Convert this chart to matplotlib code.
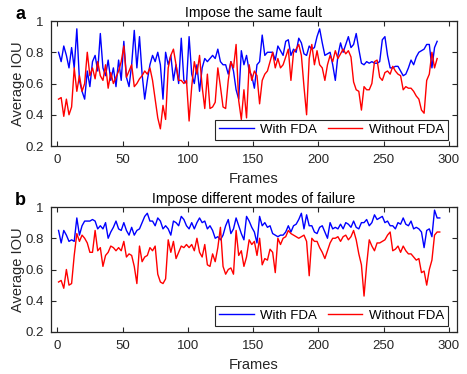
import numpy as np
import matplotlib
matplotlib.use("Agg")
import matplotlib.pyplot as plt

plt.rcParams['font.family'] = ['Liberation Sans', 'DejaVu Sans']

# IOU per frame, every 2nd frame (1, 3, 5, ...)
same_fault_fda = [
    0.80, 0.74, 0.84, 0.78, 0.70, 0.83, 0.70, 0.95, 0.62, 0.55,
    0.50, 0.68, 0.58, 0.74, 0.78, 0.68, 0.92, 0.70, 0.65, 0.75,
    0.62, 0.70, 0.58, 0.75, 0.62, 0.87, 0.64, 0.58, 0.72, 0.94,
    0.70, 0.90, 0.66, 0.50, 0.62, 0.72, 0.78, 0.74, 0.80, 0.72,
    0.50, 0.80, 0.72, 0.78, 0.62, 0.72, 0.60, 0.89, 0.62, 0.60,
    0.90, 0.66, 0.60, 0.72, 0.55, 0.70, 0.76, 0.74, 0.76, 0.78,
    0.76, 0.82, 0.74, 0.72, 0.72, 0.66, 0.74, 0.68, 0.56, 0.50,
    0.81, 0.72, 0.78, 0.68, 0.65, 0.57, 0.72, 0.74, 0.91, 0.78,
    0.80, 0.80, 0.80, 0.75, 0.84, 0.81, 0.78, 0.87, 0.88, 0.78,
    0.82, 0.80, 0.89, 0.86, 0.79, 0.78, 0.84, 0.82, 0.83, 0.90,
    0.95, 0.86, 0.78, 0.79, 0.80, 0.72, 0.62, 0.78, 0.86, 0.80,
    0.85, 0.90, 0.83, 0.85, 0.92, 0.82, 0.73, 0.72, 0.74, 0.73,
    0.74, 0.73, 0.73, 0.74, 0.88, 0.90, 0.78, 0.70, 0.70, 0.71,
    0.71, 0.68, 0.65, 0.66, 0.70, 0.75, 0.72, 0.77, 0.80, 0.81,
    0.82, 0.85, 0.85, 0.70, 0.83, 0.87,
]
same_fault_nofda = [
    0.50, 0.51, 0.39, 0.50, 0.40, 0.45, 0.70, 0.55, 0.65, 0.55,
    0.60, 0.80, 0.65, 0.70, 0.63, 0.74, 0.65, 0.62, 0.72, 0.57,
    0.67, 0.60, 0.64, 0.68, 0.74, 0.84, 0.64, 0.68, 0.72, 0.58,
    0.60, 0.63, 0.65, 0.68, 0.66, 0.70, 0.62, 0.50, 0.38, 0.31,
    0.46, 0.37, 0.70, 0.78, 0.82, 0.72, 0.62, 0.62, 0.60, 0.62,
    0.36, 0.58, 0.74, 0.66, 0.78, 0.58, 0.44, 0.66, 0.44, 0.45,
    0.48, 0.70, 0.58, 0.45, 0.44, 0.62, 0.74, 0.70, 0.85, 0.49,
    0.37, 0.56, 0.38, 0.72, 0.62, 0.68, 0.65, 0.47, 0.62, 0.66,
    0.68, 0.74, 0.80, 0.70, 0.76, 0.70, 0.72, 0.77, 0.82, 0.62,
    0.80, 0.82, 0.85, 0.78, 0.58, 0.40, 0.76, 0.85, 0.72, 0.81,
    0.72, 0.70, 0.62, 0.72, 0.78, 0.74, 0.81, 0.76, 0.79, 0.82,
    0.79, 0.81, 0.77, 0.61, 0.56, 0.55, 0.43, 0.58, 0.56, 0.56,
    0.60, 0.74, 0.75, 0.64, 0.62, 0.67, 0.68, 0.66, 0.71, 0.68,
    0.66, 0.65, 0.56, 0.58, 0.57, 0.57, 0.55, 0.52, 0.50, 0.43,
    0.41, 0.62, 0.66, 0.80, 0.70, 0.76,
]
diff_modes_fda = [
    0.85, 0.77, 0.85, 0.82, 0.78, 0.79, 0.78, 0.93, 0.82, 0.88,
    0.91, 0.91, 0.91, 0.92, 0.91, 0.86, 0.88, 0.86, 0.90, 0.80,
    0.84, 0.87, 0.91, 0.86, 0.85, 0.90, 0.85, 0.82, 0.87, 0.82,
    0.85, 0.86, 0.90, 0.94, 0.96, 0.91, 0.91, 0.88, 0.93, 0.91,
    0.86, 0.88, 0.86, 0.82, 0.91, 0.90, 0.88, 0.94, 0.92, 0.88,
    0.86, 0.90, 0.86, 0.90, 0.93, 0.90, 0.91, 0.86, 0.88, 0.85,
    0.80, 0.81, 0.79, 0.82, 0.88, 0.92, 0.83, 0.86, 0.93, 0.88,
    0.83, 0.79, 0.94, 0.91, 0.87, 0.84, 0.77, 0.94, 0.88, 0.90,
    0.87, 0.88, 0.83, 0.82, 0.81, 0.82, 0.82, 0.84, 0.88, 0.84,
    0.88, 0.89, 0.92, 0.96, 0.86, 0.95, 0.88, 0.88, 0.84, 0.83,
    0.87, 0.88, 0.84, 0.80, 0.90, 0.86, 0.87, 0.86, 0.89, 0.86,
    0.90, 0.89, 0.87, 0.91, 0.87, 0.86, 0.90, 0.90, 0.92, 0.88,
    0.90, 0.95, 0.92, 0.93, 0.94, 0.90, 0.91, 0.88, 0.88, 0.86,
    0.90, 0.89, 0.93, 0.89, 0.88, 0.91, 0.86, 0.87, 0.86, 0.84,
    0.74, 0.85, 0.86, 0.81, 0.98, 0.93, 0.93,
]
diff_modes_nofda = [
    0.52, 0.53, 0.48, 0.60, 0.50, 0.51, 0.69, 0.83, 0.78, 0.82,
    0.80, 0.77, 0.71, 0.71, 0.85, 0.72, 0.74, 0.62, 0.69, 0.71,
    0.75, 0.74, 0.72, 0.74, 0.72, 0.78, 0.68, 0.70, 0.69, 0.62,
    0.51, 0.75, 0.65, 0.68, 0.69, 0.74, 0.72, 0.75, 0.57, 0.52,
    0.51, 0.54, 0.79, 0.71, 0.78, 0.67, 0.71, 0.75, 0.74, 0.76,
    0.74, 0.76, 0.72, 0.80, 0.71, 0.68, 0.76, 0.63, 0.62, 0.70,
    0.65, 0.74, 0.87, 0.62, 0.57, 0.60, 0.61, 0.57, 0.85, 0.69,
    0.72, 0.62, 0.68, 0.79, 0.76, 0.78, 0.69, 0.80, 0.63, 0.67,
    0.66, 0.73, 0.71, 0.58, 0.80, 0.76, 0.80, 0.81, 0.85, 0.83,
    0.82, 0.81, 0.80, 0.81, 0.82, 0.78, 0.56, 0.80, 0.78, 0.78,
    0.74, 0.71, 0.67, 0.72, 0.77, 0.80, 0.80, 0.81, 0.78, 0.81,
    0.82, 0.79, 0.81, 0.85, 0.79, 0.70, 0.63, 0.43, 0.63, 0.79,
    0.75, 0.72, 0.77, 0.77, 0.78, 0.79, 0.82, 0.84, 0.72, 0.73,
    0.75, 0.71, 0.75, 0.72, 0.70, 0.70, 0.68, 0.66, 0.67, 0.58,
    0.59, 0.50, 0.60, 0.66, 0.82, 0.84, 0.84,
]

panels = [
    ("a", "Impose the same fault", same_fault_fda, same_fault_nofda),
    ("b", "Impose different modes of failure", diff_modes_fda, diff_modes_nofda),
]

fig = plt.figure(figsize=(4.67, 3.74), dpi=100)
axes_pos = [[0.1086, 0.6096, 0.8694, 0.3342],
            [0.1086, 0.1123, 0.8694, 0.3342]]
edge = "#262626"

for pos, (letter, title, fda, nofda) in zip(axes_pos, panels):
    ax = fig.add_axes(pos)
    x1 = 1 + 2 * np.arange(len(fda))
    x2 = 1 + 2 * np.arange(len(nofda))
    ax.plot(x1, fda, color="#0000FF", lw=1.0, label="With FDA")
    ax.plot(x2, nofda, color="#FF0000", lw=1.0, label="Without FDA")
    ax.set_xlim(-5, 306)
    ax.set_ylim(0.2, 1.0)
    ax.set_xticks(np.arange(0, 301, 50))
    ax.set_yticks([0.2, 0.4, 0.6, 0.8, 1.0])
    ax.set_yticklabels(["0.2", "0.4", "0.6", "0.8", "1"])
    ax.tick_params(direction="in", length=3.5, width=0.8, top=True, right=True,
                   labelsize=9.5, colors=edge, pad=5)
    ax.tick_params(axis="x", pad=6)
    for s in ax.spines.values():
        s.set_color(edge)
        s.set_linewidth(0.9)
    ax.set_xlabel("Frames", fontsize=10.5, color=edge, labelpad=4)
    ax.set_ylabel("Average IOU", fontsize=10.5, color=edge, labelpad=0)
    ax.set_title(title, fontsize=10, color="black", pad=3)
    ax.text(-0.075, 1.05, letter, transform=ax.transAxes, fontsize=13,
            fontweight="bold", ha="center", va="center")
    leg = ax.legend(loc="lower right", bbox_to_anchor=(0.978, 0.05), ncol=2,
                    fontsize=9.5, frameon=True, fancybox=False,
                    edgecolor=edge, framealpha=1, borderaxespad=0,
                    handlelength=2.6, columnspacing=0.8, handletextpad=0.5,
                    borderpad=0.3)
    leg.get_frame().set_linewidth(0.8)

fig.savefig("out.png", dpi=100)
